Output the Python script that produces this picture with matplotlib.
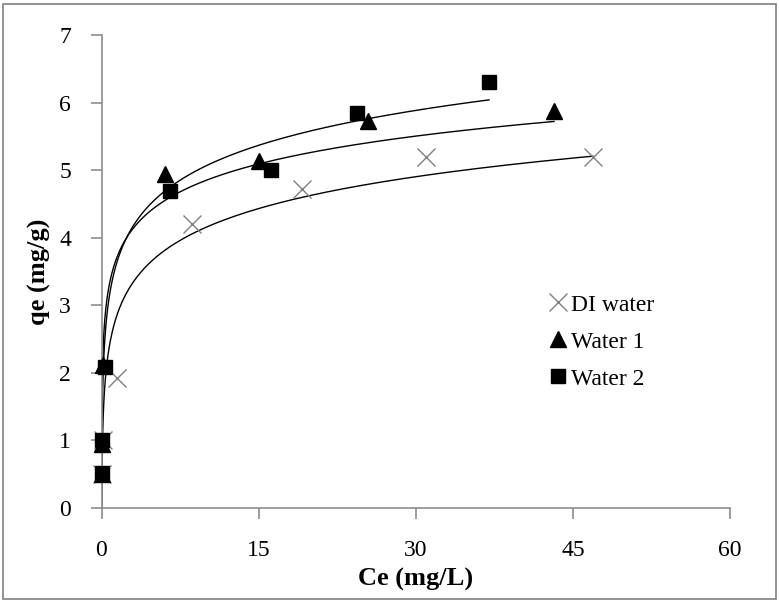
import numpy as np
import matplotlib
matplotlib.use("Agg")
import matplotlib.pyplot as plt
from matplotlib.patches import Rectangle

# ---- data ----
di_x = [0.02, 0.1, 1.5, 8.6, 19.1, 31.0, 46.9]
di_y = [0.5, 1.0, 1.92, 4.2, 4.72, 5.2, 5.19]

w1_x = [0.02, 0.05, 0.1, 6.1, 15.0, 25.4, 43.2]
w1_y = [0.5, 0.95, 2.12, 4.95, 5.14, 5.73, 5.88]

w2_x = [0.02, 0.05, 0.3, 6.5, 16.2, 24.4, 37.0]
w2_y = [0.52, 1.0, 2.08, 4.69, 5.0, 5.85, 6.3]

# logarithmic trendlines y = a*ln(x) + b, as drawn in the reference
di_trend = [0.68, 2.59]
w1_trend = [0.595, 3.48]
w2_trend = [0.745, 3.35]

labels = ["DI water", "Water 1", "Water 2"]
x_ticks = [0, 15, 30, 45, 60]
y_ticks = [0, 1, 2, 3, 4, 5, 6, 7]

plt.rcParams['font.family'] = ['Liberation Serif', 'DejaVu Serif']

fig = plt.figure(figsize=(7.79, 6.03), dpi=100)
ax = fig.add_axes([101.5/779, 1-508/603, (730-101.5)/779, (508-35)/603])

# border around the whole figure
fig.patches.append(Rectangle((3/779, 4/603), 773/779, 595/603, transform=fig.transFigure,
                             fill=False, edgecolor='#808080', linewidth=1.2))

def trend(x, coef, xmin=0.01):
    a, b = coef
    xs = np.geomspace(xmin, max(x), 800)
    return xs, a*np.log(xs) + b

for xs_, coef in [(di_x, di_trend), (w1_x, w1_trend), (w2_x, w2_trend)]:
    tx, ty = trend(xs_, coef)
    ax.plot(tx, ty, color='black', lw=1.0, zorder=2)

ax.plot(di_x, di_y, ls='none', marker='x', ms=13, mew=1.0, color='#7f7f7f',
        label=labels[0], zorder=3, clip_on=False)
ax.plot(w1_x, w1_y, ls='none', marker='^', ms=11, color='black',
        label=labels[1], zorder=3, clip_on=False)
ax.plot(w2_x, w2_y, ls='none', marker='s', ms=9.5, color='black',
        label=labels[2], zorder=3, clip_on=False)

ax.set_xlim(0, 60)
ax.set_ylim(0, 7)
ax.set_xticks(x_ticks)
ax.set_yticks(y_ticks)
for s in ['top', 'right']:
    ax.spines[s].set_visible(False)
for s in ['left', 'bottom']:
    ax.spines[s].set_color('#8c8c8c')
    ax.spines[s].set_linewidth(1.2)
ax.tick_params(axis='both', colors='#8c8c8c', length=8, width=1.2, labelsize=17,
               labelcolor='black', direction='out')
ax.tick_params(axis='x', pad=15)
ax.tick_params(axis='y', pad=14)

ax.set_xlabel('Ce (mg/L)', fontsize=19, fontweight='bold', labelpad=5)
ax.set_ylabel('qe (mg/g)', fontsize=19, fontweight='bold', labelpad=6)

leg = ax.legend(loc='upper left', bbox_to_anchor=(549/779, 1-294/603),
                bbox_transform=fig.transFigure, frameon=False, fontsize=17,
                handlelength=0.8, handletextpad=0.15, labelspacing=0.66,
                borderaxespad=0, borderpad=0)

fig.savefig('out.png', dpi=100)
